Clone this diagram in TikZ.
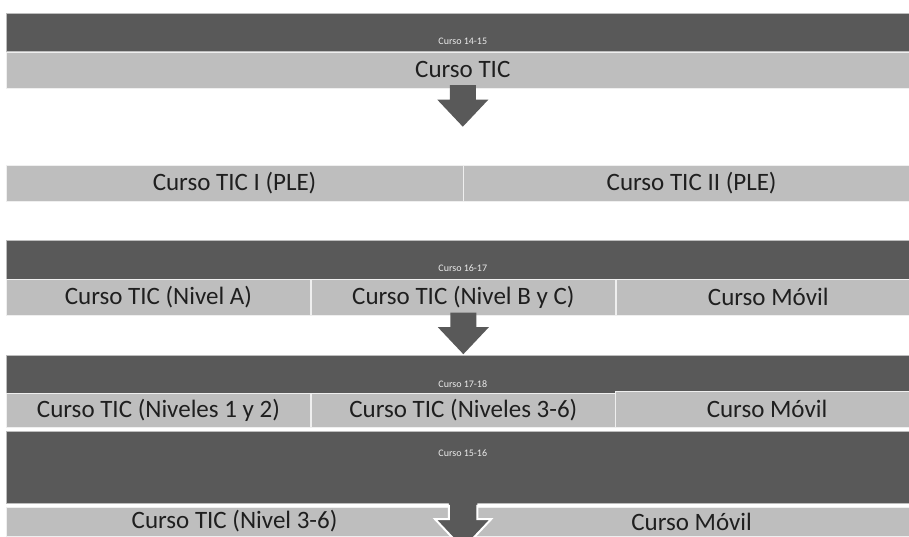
\documentclass[tikz,border=0pt]{standalone}
\usepackage{fontspec}
\setmainfont{Carlito}
\usetikzlibrary{positioning}
\definecolor{oscuro}{HTML}{595959}
\definecolor{claro}{HTML}{BEBEBE}
\tikzset{
    banda/.style={
        rectangle, fill=oscuro, draw=white!60!oscuro,
        line width=0.6pt, inner sep=0pt, anchor=north west,
        minimum width=913pt
    },
    celda/.style={
        rectangle, fill=claro, draw=white!75!claro,
        line width=0.6pt, inner sep=0pt, anchor=north west,
        minimum height=36pt, text=black!88,
        font=\fontsize{25}{27}\selectfont
    },
    curso/.style={
        text=white!88!oscuro, inner sep=0pt,
        font=\fontsize{10}{11}\selectfont
    },
    flecha/.pic={
        \fill[oscuro] (-13,-3) -- (13,-3) -- (13,11.5) -- (25.5,11.5)
            -- (0,38.5) -- (-25.5,11.5) -- (-13,11.5) -- cycle;
    },
    flechaborde/.pic={
        \fill[oscuro] (-13,-3) -- (13,-3) -- (13,11.5) -- (25.5,11.5)
            -- (0,38.5) -- (-25.5,11.5) -- (-13,11.5) -- cycle;
        \draw[white, line width=2pt, line join=miter] (-13,-1.5) -- (-13,11.5)
            -- (-25.5,11.5) -- (0,38.5) -- (25.5,11.5) -- (13,11.5) -- (13,-1.5);
    }
}

\begin{document}
\begin{tikzpicture}[x=1pt, y=-1pt]
    \useasboundingbox (0,0) rectangle (909,536);

    % curso 14-15
    \node[banda, minimum height=38.5pt] (b1415) at (6,12.5) {};
    \node[curso, above=7pt of b1415.south] (t1415) {Curso 14-15};
    \node[celda, minimum width=913pt] (tic) at (b1415.south west) {Curso TIC};
    \pic at (tic.south) {flecha};

    % dos cursos PLE
    \node[celda, minimum width=456.5pt] (ple1) at (6,165) {Curso TIC I (PLE)};
    \node[celda, minimum width=456.5pt, right=0pt of ple1] (ple2) {Curso TIC II (PLE)};

    % curso 16-17
    \node[banda, minimum height=38.5pt] (b1617) at (6,240) {};
    \node[curso, above=7pt of b1617.south] (t1617) {Curso 16-17};
    \node[celda, minimum width=304.3pt] (nivA) at (b1617.south west) {Curso TIC (Nivel A)};
    \node[celda, minimum width=304.3pt, right=0pt of nivA] (nivBC) {Curso TIC (Nivel B y C)};
    \node[celda, minimum width=304.3pt, right=0pt of nivBC] (movil1) {Curso Móvil};
    \pic at (nivBC.south) {flecha};

    % curso 17-18
    \node[banda, minimum height=38pt] (b1718) at (6,355) {};
    \node[curso, above=6pt of b1718.south] (t1718) {Curso 17-18};
    \node[celda, minimum width=304.3pt, minimum height=34pt] (niv12) at (6,393) {Curso TIC (Niveles 1 y 2)};
    \node[celda, minimum width=304.3pt, minimum height=34pt, right=0pt of niv12] (niv36) {Curso TIC (Niveles 3-6)};
    \node[celda, minimum width=304.3pt, minimum height=36.5pt] (movil2) at (614.6,390.5) {Curso Móvil};

    % curso 15-16
    \node[banda, minimum height=72pt] (b1516) at (6,431) {};
    \node[curso, below=19pt of b1516.north] (t1516) {Curso 15-16};
    \node[celda, minimum width=456.5pt, minimum height=29.5pt] (niv3) at (6,506.5) {Curso TIC (Nivel 3-6)};
    \node[celda, minimum width=456.5pt, minimum height=29.5pt, right=0pt of niv3] (movil3) {Curso Móvil};
    \pic[scale=1.1] at (niv3.north east) {flechaborde};
\end{tikzpicture}
\end{document}
